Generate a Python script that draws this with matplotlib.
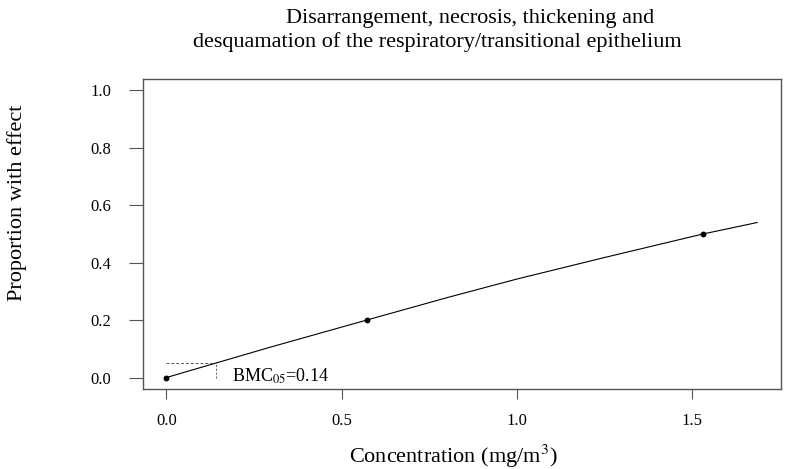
import matplotlib
matplotlib.use("Agg")
import matplotlib.pyplot as plt

# observed dose groups (mg/m3) and proportion responding
doses = [0.0, 0.571, 1.531]
responses = [0.0, 0.2, 0.5]

# fitted model curve
curve_x = [0.0, 0.14, 0.3, 0.571, 0.8, 1.0, 1.25, 1.531, 1.686]
curve_y = [0.0, 0.05, 0.107, 0.2, 0.278, 0.343, 0.418, 0.5, 0.54]

bmr = 0.05
bmc = 0.14

x_ticks = [0.0, 0.5, 1.0, 1.5]
y_ticks = [0.0, 0.2, 0.4, 0.6, 0.8, 1.0]

plt.rcParams['font.family'] = ['Liberation Serif', 'DejaVu Serif']
plt.rcParams['mathtext.fontset'] = 'stix'

fig = plt.figure(figsize=(8.01, 4.69), dpi=100)
ax = fig.add_axes([143 / 801, 80 / 469, 638 / 801, 310 / 469])

ax.plot(curve_x, curve_y, color='black', linewidth=0.8)
ax.plot(doses, responses, 'o', color='black', markersize=3.2)

# BMC marker lines
ax.plot([0, bmc], [bmr, bmr], color='#555555', linestyle=(0, (3, 2)), linewidth=0.7)
ax.plot([bmc, bmc], [0, bmr], color='#555555', linestyle=(0, (2, 2)), linewidth=0.7)
ax.text(0.186, -0.03, r'BMC$_{05}$=0.14', fontsize=13, ha='left', va='bottom')

ax.set_xlim(-0.067, 1.754)
ax.set_ylim(-0.04, 1.04)
ax.set_xticks(x_ticks)
ax.set_xticklabels([f"{t:.1f}" for t in x_ticks])
ax.set_yticks(y_ticks)
ax.set_yticklabels([f"{t:.1f}" for t in y_ticks])

for s in ax.spines.values():
    s.set_color('#555555')
    s.set_linewidth(1.0)
ax.tick_params(axis='x', direction='out', length=7, color='#555555', labelsize=12, pad=10)
ax.tick_params(axis='y', direction='out', length=10, color='#555555', labelsize=12, pad=13)

fig.text(453 / 801, 1 - 456 / 469, 'Concentration (mg/m$^3$)',
         fontsize=16, ha='center', va='center')
fig.text(17 / 801, 1 - 203 / 469, 'Proportion with effect', rotation=90,
         fontsize=16, ha='center', va='center')

fig.text(470 / 801, 1 - 18 / 469, 'Disarrangement, necrosis, thickening and',
         fontsize=16, ha='center', va='center')
fig.text(437 / 801, 1 - 42 / 469, 'desquamation of the respiratory/transitional epithelium',
         fontsize=16, ha='center', va='center')

fig.savefig('out.png', dpi=100)
